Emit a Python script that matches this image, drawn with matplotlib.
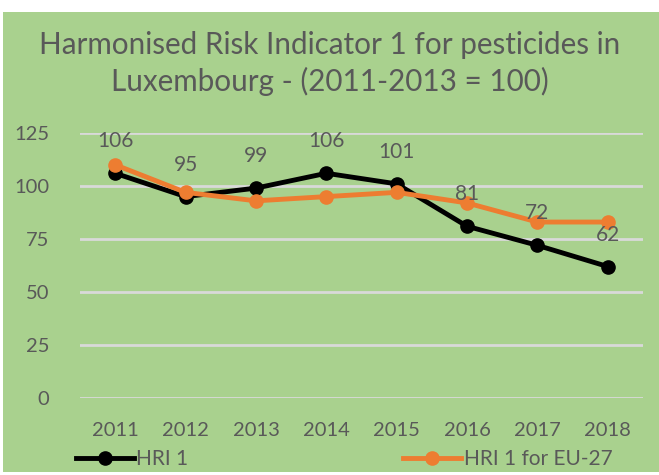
import matplotlib.pyplot as plt
from matplotlib.patches import Rectangle

years = ["2011", "2012", "2013", "2014", "2015", "2016", "2017", "2018"]
hri_lux = [106, 95, 99, 106, 101, 81, 72, 62]
hri_eu = [110, 97, 93, 95, 97, 92, 83, 83]
yticks = [0, 25, 50, 75, 100, 125]

plt.rcParams['font.family'] = ['Lato', 'DejaVu Sans']
green = '#a9d18e'
grey = '#595959'

fig = plt.figure(figsize=(6.59, 4.75), dpi=100)
fig.patch.set_facecolor('white')
# green chart area (white margin at top, left and bottom)
fig.patches.append(Rectangle((3 / 659, 3 / 475), 656 / 659, 460 / 475,
                             transform=fig.transFigure, facecolor=green,
                             edgecolor='none', zorder=-5))

ax = fig.add_axes([80 / 659, 77 / 475, 563 / 659, 265 / 475])
ax.set_facecolor('none')

x = list(range(len(years)))
ax.plot(x, hri_lux, color='black', lw=3.5, marker='o', ms=9.5, label='HRI 1', zorder=3)
ax.plot(x, hri_eu, color='#ed7d31', lw=3.5, marker='o', ms=9.5, label='HRI 1 for EU-27', zorder=4)

for xi, v in zip(x, hri_lux):
    ax.annotate(str(v), (xi, v), xytext=(0, 23), textcoords='offset points',
                ha='center', va='center', fontsize=15, color=grey, zorder=5)

ax.set_xlim(-0.5, len(years) - 0.5)
ax.set_ylim(0, 125)
ax.set_yticks(yticks)
ax.set_xticks(x)
ax.set_xticklabels(years)
ax.tick_params(axis='both', length=0, labelsize=14.5, labelcolor=grey)
ax.tick_params(axis='y', pad=22)
ax.tick_params(axis='x', pad=17)
ax.grid(axis='y', color='#d9d9d9', lw=2)
ax.set_axisbelow(True)
for s in ax.spines.values():
    s.set_visible(False)

fig.text(0.5, 1 - 45 / 475, "Harmonised Risk Indicator 1 for pesticides in",
         ha='center', va='center', fontsize=21.3, color=grey)
fig.text(0.5, 1 - 81 / 475, "Luxembourg - (2011-2013 = 100)",
         ha='center', va='center', fontsize=21.3, color=grey)

leg = fig.legend(loc='center left', bbox_to_anchor=(76 / 659, 1 - 459 / 475),
                 ncol=2, frameon=False, fontsize=15, handlelength=2.8,
                 handletextpad=0.1, columnspacing=10.3, borderpad=0,
                 borderaxespad=0, labelcolor=grey)

fig.savefig('out.png', dpi=100)
